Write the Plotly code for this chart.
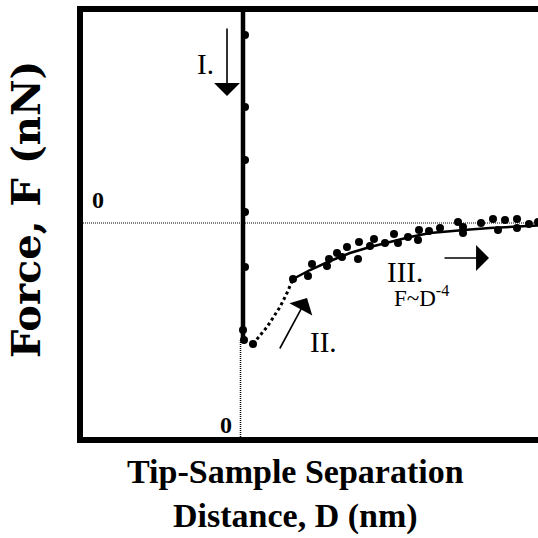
import plotly.graph_objects as go

# ---- data (arbitrary units: D along x, F along y) ----
# Region I: contact line (tip pressed on sample)
contact_line_d = [0.0, 0.0]
contact_line_f = [2.3, -1.17]
contact_pts_d = [0.02, 0.02, 0.02, 0.02, 0.02, 0.0, 0.01]
contact_pts_f = [1.88, 1.16, 0.63, 0.11, -0.44, -1.07, -1.17]

# minimum (snap-off point)
snap_d = [0.10]
snap_f = [-1.21]

# Region II: jump (dotted)
jump_d = [0.10, 0.24, 0.37, 0.44, 0.50]
jump_f = [-1.21, -1.04, -0.84, -0.70, -0.56]

# Region III: measured points
meas_d = [0.50, 0.65, 0.69, 0.84, 0.86, 0.94, 0.99, 1.04, 1.15, 1.16, 1.27, 1.31,
          1.42, 1.51, 1.55, 1.65, 1.75, 1.76, 1.86, 1.97, 2.15, 2.20, 2.20, 2.38,
          2.50, 2.55, 2.62, 2.74, 2.74, 2.86, 2.95]
meas_f = [-0.56, -0.53, -0.41, -0.43, -0.36, -0.30, -0.34, -0.24, -0.36, -0.19, -0.23, -0.16,
          -0.20, -0.11, -0.20, -0.14, -0.17, -0.07, -0.08, -0.05, 0.01, -0.04, -0.10, 0.00,
          0.04, -0.07, 0.03, 0.04, -0.05, -0.01, 0.01]

# Region III: F ~ D^-4 fit
fit_d = [0.50, 0.67, 0.87, 1.07, 1.27, 1.47, 1.67, 1.87, 2.07, 2.27, 2.47, 2.67, 2.95]
fit_f = [-0.56, -0.47, -0.38, -0.30, -0.24, -0.19, -0.14, -0.10, -0.08, -0.065, -0.05, -0.04, -0.025]

x_range = [-1.63, 2.95]
y_range = [-2.17, 2.14]

SERIF = "Liberation Serif, Times New Roman, serif"

fig = go.Figure()

fig.add_trace(go.Scatter(x=contact_line_d, y=contact_line_f, mode="lines",
                         line=dict(color="black", width=4.5), hoverinfo="skip"))
fig.add_trace(go.Scatter(x=jump_d, y=jump_f, mode="lines",
                         line=dict(color="black", width=3, dash="dot"), hoverinfo="skip"))
fig.add_trace(go.Scatter(x=fit_d, y=fit_f, mode="lines",
                         line=dict(color="black", width=2.5), hoverinfo="skip"))
fig.add_trace(go.Scatter(x=contact_pts_d + snap_d + meas_d,
                         y=contact_pts_f + snap_f + meas_f, mode="markers",
                         marker=dict(color="black", size=8), cliponaxis=False))

shapes = [
    # zero-force dotted guide
    dict(type="line", xref="x", yref="y", x0=-1.6, x1=3.0, y0=0, y1=0,
         line=dict(color="black", width=1, dash="1px,1px")),
    # zero-distance dotted guide
    dict(type="line", xref="x", yref="y", x0=-0.025, x1=-0.025, y0=-1.17, y1=-2.17,
         line=dict(color="black", width=1.5, dash="1px,1px")),
    # frame (left, top, bottom)
    dict(type="path", xref="paper", yref="paper",
         path="M 1.05,1 L 0,1 L 0,0 L 1.05,0",
         line=dict(color="black", width=6)),
]

def arrow(x, y, ax, ay):
    return dict(x=x, y=y, ax=ax, ay=ay, xref="x", yref="y", axref="x", ayref="y",
                text="", showarrow=True, arrowhead=1, arrowsize=2.7, arrowwidth=1.6,
                arrowcolor="black")

def label(x, y, text, size):
    return dict(x=x, y=y, xref="x", yref="y", text=text, showarrow=False,
                font=dict(family=SERIF, size=size, color="black"))

annotations = [
    arrow(-0.16, 1.27, -0.16, 1.96),
    arrow(0.64, -0.75, 0.36, -1.27),
    arrow(2.46, -0.35, 2.00, -0.35),
    label(-0.38, 1.59, "I.", 29),
    label(0.80, -1.19, "II.", 29),
    label(1.62, -0.49, "III.", 29),
    label(1.78, -0.73, "F~D<sup>-4</sup>", 23),
    label(-1.45, 0.23, "<b>0</b>", 24),
    label(-0.17, -2.02, "<b>0</b>", 24),
]

# axis titles as paper annotations
annotations.append(dict(
    x=(295 - 80) / 458, y=-(494 - 440) / 431, xref="paper", yref="paper",
    text="<b>Tip-Sample Separation<br>Distance, D (nm)</b>", showarrow=False,
    font=dict(family=SERIF, size=34, color="black"), align="center",
    xanchor="center", yanchor="middle"))
annotations.append(dict(
    x=-(80 - 25) / 458, y=(440 - 210) / 431, xref="paper", yref="paper",
    text="<b>Force, F (nN)</b>", showarrow=False, textangle=-90,
    font=dict(family="DejaVu Serif, serif", size=40, color="black"),
    xanchor="center", yanchor="middle"))

fig.update_layout(
    width=538, height=538,
    margin=dict(l=80, r=0, t=9, b=98),
    paper_bgcolor="white", plot_bgcolor="white",
    showlegend=False,
    xaxis=dict(range=x_range, visible=False, fixedrange=True),
    yaxis=dict(range=y_range, visible=False, fixedrange=True),
    shapes=shapes,
    annotations=annotations,
)

fig.write_html("out.html")
